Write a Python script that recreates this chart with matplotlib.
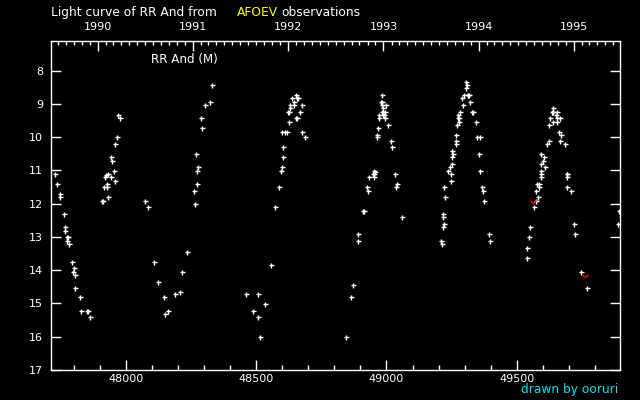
import datetime as dt
import matplotlib
matplotlib.use("Agg")
import matplotlib.pyplot as plt
from matplotlib.path import Path
from matplotlib.ticker import MultipleLocator, FixedLocator, NullFormatter

# ---- data: JD - 2400000 and visual magnitude ----
jd = [47729.7, 47737.3, 47748.8, 47748.8, 47764.0, 47768.0, 47768.0, 47774.0, 47777.0,
      47775.7, 47783.0, 47795.0, 47802.5, 47798.7, 47806.4, 47806.4, 47825.6, 47829.4,
      47851.0, 47854.0, 47864.0,
      47910.0, 47913.0, 47933.0, 47917.6, 47929.0, 47929.0, 47960.0, 47944.5, 47921.5,
      47925.0, 47933.0, 47956.0, 47948.0, 47944.5, 47960.0, 47967.5, 47971.0, 47979.0,
      48075.0, 48086.4, 48109.5, 48124.8, 48147.8, 48151.6, 48163.0, 48190.0, 48209.0,
      48217.0, 48236.0, 48266.7, 48263.0, 48274.4, 48274.4, 48278.0, 48270.6, 48293.6,
      48289.8, 48305.0, 48324.0, 48332.0,
      48462.4, 48508.4, 48535.0, 48489.0, 48508.4, 48516.0, 48558.0, 48573.6, 48589.0,
      48596.6, 48600.5, 48604.0, 48604.0, 48600.5, 48612.0, 48619.7, 48627.3, 48622.0,
      48625.0, 48631.0, 48631.0, 48646.0, 48646.0, 48638.8, 48654.0, 48657.0, 48660.0,
      48653.0, 48656.0, 48669.6, 48677.0, 48677.0, 48688.7,
      48846.0, 48865.0, 48872.8, 48892.0, 48892.0, 48910.0, 48913.0, 48927.0, 48930.5,
      48934.5, 48952.0, 48950.0, 48954.0, 48954.0, 48957.0, 48965.0, 48965.0, 48969.0,
      48972.6, 48972.6, 48983.0, 48986.0, 48988.0, 48995.0, 48995.0, 48992.0, 48988.0,
      48984.0, 48999.5, 48979.0, 48982.0, 48984.0, 49007.0, 49018.6, 49022.0, 49034.0,
      49041.6, 49038.0, 49061.0,
      49210.5, 49214.0, 49218.0, 49222.0, 49218.0, 49218.0, 49226.0, 49222.0, 49249.0,
      49237.5, 49249.0, 49245.0, 49253.0, 49253.0, 49257.0, 49253.0, 49268.0, 49268.0,
      49268.0, 49272.0, 49279.5, 49276.0, 49279.5, 49276.0, 49283.0, 49295.0, 49291.0,
      49299.0, 49311.0, 49314.0, 49317.0, 49306.0, 49310.0, 49306.0, 49322.0, 49328.0,
      49331.0, 49345.0, 49348.6, 49360.0, 49356.0, 49360.0, 49368.0, 49372.0, 49375.5,
      49395.0, 49398.6,
      49540.0, 49540.0, 49548.0, 49552.0, 49567.0, 49575.0, 49583.0, 49575.0, 49579.0,
      49587.0, 49587.0, 49594.5, 49594.5, 49594.5, 49610.0, 49594.5, 49602.0, 49606.0,
      49594.5, 49614.0, 49625.0, 49621.7, 49625.5, 49637.0, 49634.0, 49637.0, 49640.0,
      49637.0, 49656.0, 49652.0, 49656.0, 49664.0, 49656.0, 49660.0, 49668.0, 49664.0,
      49683.0, 49691.0, 49694.0, 49691.0, 49694.0, 49706.0, 49721.0, 49725.0, 49748.0,
      49771.0, 49893.0, 49889.0]
mag = [11.12, 11.42, 11.72, 11.80, 12.32, 12.71, 12.83, 13.01, 13.01,
       13.13, 13.22, 13.74, 13.92, 14.04, 14.13, 14.52, 14.82, 15.24,
       15.24, 15.24, 15.42,
       11.93, 11.93, 11.81, 11.51, 11.51, 11.42, 11.33, 11.21, 11.21,
       11.15, 11.12, 11.03, 10.73, 10.61, 10.22, 10.01, 9.32, 9.41,
       11.93, 12.11, 13.74, 14.34, 14.82, 15.33, 15.24, 14.73, 14.64,
       14.04, 13.44, 12.02, 11.63, 11.42, 11.03, 10.91, 10.52, 9.71,
       9.41, 9.02, 8.93, 8.42,
       14.73, 14.73, 15.03, 15.24, 15.42, 16.02, 13.83, 12.11, 11.51,
       11.03, 10.91, 10.61, 10.31, 9.83, 9.83, 9.83, 9.53, 9.23,
       9.23, 9.11, 9.02, 9.02, 8.93, 8.81, 8.72, 8.81, 8.81,
       9.41, 9.41, 9.23, 9.02, 9.83, 10.01,
       16.02, 14.82, 14.43, 13.13, 12.92, 12.23, 12.23, 11.51, 11.63,
       11.21, 11.20, 11.12, 11.12, 11.03, 11.06, 10.01, 9.92, 9.71,
       9.41, 9.32, 9.23, 9.23, 9.32, 9.41, 9.23, 9.32, 9.11,
       9.02, 9.02, 8.93, 8.93, 8.72, 9.62, 10.13, 10.31, 11.12,
       11.42, 11.51, 12.41,
       13.13, 13.22, 12.71, 12.62, 12.41, 12.32, 11.81, 11.51, 11.33,
       11.03, 11.12, 10.91, 10.82, 10.61, 10.52, 10.43, 10.22, 10.13,
       9.92, 9.62, 9.53, 9.41, 9.41, 9.32, 9.23, 9.02, 8.81,
       8.72, 8.72, 8.72, 8.72, 8.51, 8.42, 8.33, 8.93, 9.23,
       9.23, 9.53, 10.01, 10.01, 10.52, 11.03, 11.51, 11.63, 11.93,
       12.92, 13.13,
       13.62, 13.32, 13.01, 12.71, 12.11, 11.93, 11.81, 11.63, 11.42,
       11.42, 11.51, 11.21, 11.12, 11.03, 10.91, 10.82, 10.73, 10.61,
       10.52, 10.22, 10.13, 9.62, 9.41, 9.53, 9.23, 9.23, 9.23,
       9.11, 9.23, 9.32, 9.41, 9.41, 9.53, 9.83, 9.92, 10.13,
       10.22, 11.12, 11.12, 11.21, 11.51, 11.63, 12.62, 12.92, 14.04,
       14.52, 12.23, 12.62]
# fainter-than estimates (red)
jd_red = [49561.0, 49763.0]
mag_red = [11.96, 14.16]

years = [1990, 1991, 1992, 1993, 1994, 1995]
star_label = "RR And (M)"

def rjd(y, m):
    # reduced Julian date (JD - 2400000) of the first of a month
    return (dt.date(y, m, 1) - dt.date(1858, 11, 17)).days + 0.5

W, H = 640, 400
fig = plt.figure(figsize=(W / 100, H / 100), dpi=100, facecolor="black")
ax = fig.add_axes([50.7 / W, 1 - 370 / H, (620.3 - 50.7) / W, (370 - 40.7) / H])
ax.set_facecolor("black")
xlim = (47712, 49897)
ax.set_xlim(*xlim)
ax.set_ylim(17, 7.1)

ax.plot(jd, mag, linestyle="none", marker="+", markersize=3.6,
        markeredgewidth=1.0, color="white")
vmark = Path([(-1, 0.6), (0, -0.4), (1, 0.6)], [Path.MOVETO, Path.LINETO, Path.LINETO])
ax.plot(jd_red, mag_red, linestyle="none", marker=vmark, markersize=4.5,
        markeredgewidth=1.0, markerfacecolor="none", markeredgecolor="red")

for s in ax.spines.values():
    s.set_color("white")
    s.set_linewidth(1.0)

fs = 8
tfs = 8.8
ax.xaxis.set_major_locator(MultipleLocator(500))
ax.xaxis.set_minor_locator(MultipleLocator(100))
ax.tick_params(axis="x", which="major", direction="in", length=7.2, width=1,
               color="white", labelcolor="white", labelsize=fs, pad=3, top=False)
ax.tick_params(axis="x", which="minor", direction="in", length=3.6, width=1,
               color="white", top=False)
ax.tick_params(axis="y", which="major", direction="in", length=7.2, width=1,
               color="white", labelcolor="white", labelsize=fs, pad=5.5,
               left=True, right=True)
ax.set_yticks(range(8, 18))

ax2 = ax.twiny()
ax2.set_xlim(*xlim)
ax2.xaxis.set_major_locator(FixedLocator([rjd(y, 1) for y in years]))
ax2.set_xticklabels([str(y) for y in years])
months = [rjd(y, m) for y in range(1989, 1997) for m in range(1, 13)]
months = [m for m in months if xlim[0] <= m <= xlim[1]]
ax2.xaxis.set_minor_locator(FixedLocator(months))
ax2.xaxis.set_minor_formatter(NullFormatter())
ax2.tick_params(axis="x", which="major", direction="in", length=7.2, width=1,
                color="white", labelcolor="white", labelsize=fs, pad=6)
ax2.tick_params(axis="x", which="minor", direction="in", length=3, width=1,
                color="white")
for s in ax2.spines.values():
    s.set_visible(False)

fig.text(50.7 / W, 1 - 16 / H, "Light curve of RR And from", color="white",
         fontsize=tfs, va="baseline", ha="left")
fig.text(236.7 / W, 1 - 16 / H, "AFOEV", color="#ffff00",
         fontsize=tfs, va="baseline", ha="left")
fig.text(281.7 / W, 1 - 16 / H, "observations", color="white",
         fontsize=tfs, va="baseline", ha="left")
fig.text(150.7 / W, 1 - 60 / H, star_label, color="white", fontsize=8.6,
         va="center", ha="left")
fig.text(618 / W, 1 - 390 / H, "drawn by ooruri", color="#00e5ee", fontsize=tfs,
         va="center", ha="right")

fig.savefig("out.png", dpi=100, facecolor="black")
